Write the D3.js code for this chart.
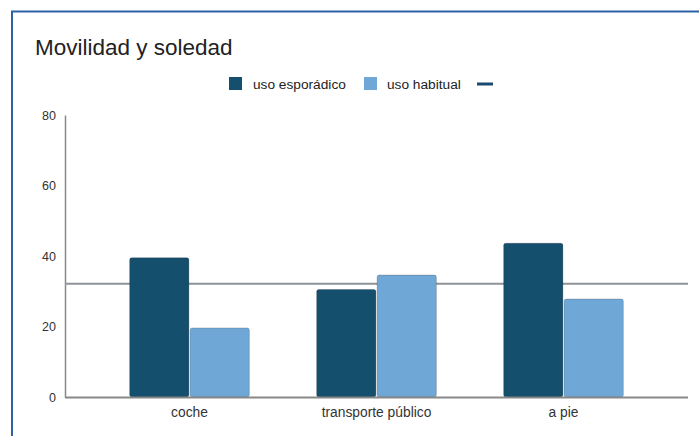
<!DOCTYPE html>
<html>
<head>
<meta charset="utf-8">
<script src="https://cdn.jsdelivr.net/npm/d3@7"></script>
<style>
  body { margin: 0; background: #fff; }
  text { font-family: "Liberation Sans", Arial, sans-serif; }
</style>
</head>
<body>
<div id="chart"></div>
<script>
// data
const categories = ["coche", "transporte público", "a pie"];
const series = ["uso esporádico", "uso habitual"];
const esporadico = [39.5, 30.5, 43.6];
const habitual = [19.6, 34.6, 27.8];
const referencia = 32.1;
const yTicks = [0, 20, 40, 60, 80];

const width = 699, height = 436;
const colors = ["#154f6e", "#6fa8d6"];

const svg = d3.select("#chart").append("svg")
  .attr("width", width)
  .attr("height", height);

// frame
svg.append("path")
  .attr("d", `M12,${height} L12,11.5 L${width},11.5`)
  .attr("fill", "none")
  .attr("stroke", "#2e62a4")
  .attr("stroke-width", 2);

svg.append("text")
  .attr("x", 35).attr("y", 55)
  .attr("font-size", 22.5)
  .attr("fill", "#222")
  .text("Movilidad y soledad");

const y = d3.scaleLinear().domain([0, 80]).range([397, 115]);
const x = d3.scaleBand().domain(categories).range([96, 657])
  .paddingInner(0.36).paddingOuter(0.18);
const x1 = d3.scaleBand().domain(series).range([0, x.bandwidth()]).paddingInner(0.02);

// y axis
const yAxis = svg.append("g").attr("transform", "translate(65,0)")
  .call(d3.axisLeft(y).tickValues(yTicks).tickSize(0).tickPadding(9));
yAxis.select(".domain").attr("stroke", "#888").attr("stroke-width", 1.5);
yAxis.selectAll("text").attr("font-size", 12.5).attr("fill", "#333")
  .style("font-family", "Liberation Sans, Arial, sans-serif");

// reference line
svg.append("line")
  .attr("x1", 65).attr("x2", 688)
  .attr("y1", y(referencia)).attr("y2", y(referencia))
  .attr("stroke", "#8f9397").attr("stroke-width", 2);

// bars
const rows = categories.map((c, i) => ({ cat: c, values: [esporadico[i], habitual[i]] }));
svg.selectAll("g.grp")
  .data(rows)
  .join("g")
  .attr("class", "grp")
  .attr("transform", d => `translate(${x(d.cat)},0)`)
  .selectAll("rect")
  .data(d => d.values.map((v, j) => ({ s: series[j], v, j })))
  .join("rect")
  .attr("x", d => x1(d.s))
  .attr("y", d => y(d.v))
  .attr("width", x1.bandwidth())
  .attr("height", d => y(0) - y(d.v))
  .attr("rx", 2)
  .attr("fill", d => colors[d.j])
  .attr("stroke", "rgba(0,0,0,0.18)")
  .attr("stroke-width", 1);

// x axis
const xAxis = svg.append("g").attr("transform", "translate(0,397)")
  .call(d3.axisBottom(x).tickSize(0).tickPadding(10));
xAxis.select(".domain").remove();
svg.append("line")
  .attr("x1", 65).attr("x2", 688).attr("y1", 397.5).attr("y2", 397.5)
  .attr("stroke", "#888").attr("stroke-width", 2);
xAxis.selectAll("text").attr("font-size", 13.8).attr("fill", "#333")
  .style("font-family", "Liberation Sans, Arial, sans-serif");

// legend
const legend = svg.append("g").attr("transform", "translate(229,77)");
legend.append("rect").attr("x", 0).attr("y", 0).attr("width", 13).attr("height", 13).attr("fill", colors[0]);
legend.append("text").attr("x", 24).attr("y", 11.5).attr("font-size", 13.7).attr("fill", "#222").text(series[0]);
legend.append("rect").attr("x", 135).attr("y", 0).attr("width", 13).attr("height", 13).attr("fill", colors[1]);
legend.append("text").attr("x", 158).attr("y", 11.5).attr("font-size", 13.7).attr("fill", "#222").text(series[1]);
legend.append("line").attr("x1", 248).attr("x2", 264).attr("y1", 7).attr("y2", 7)
  .attr("stroke", "#1a4b6e").attr("stroke-width", 3);
</script>
</body>
</html>
